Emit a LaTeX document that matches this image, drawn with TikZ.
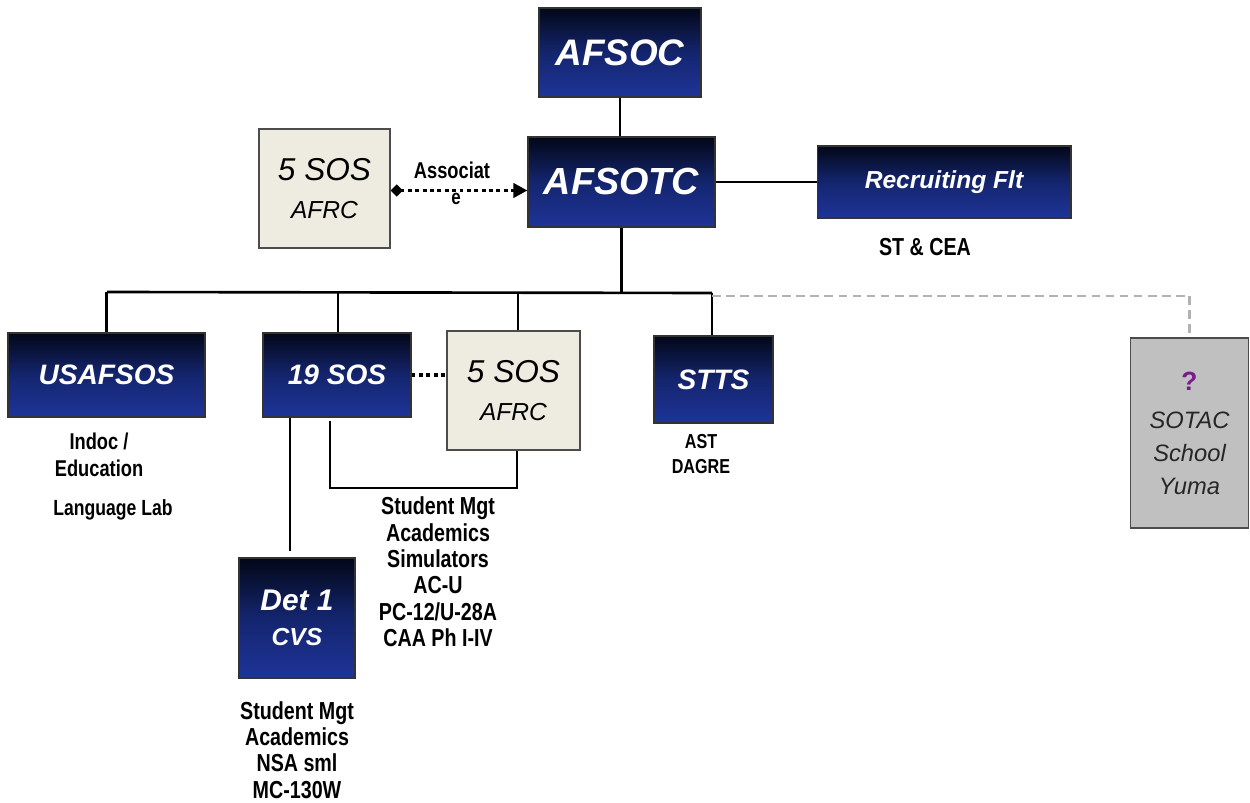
\documentclass[tikz,border=0pt]{standalone}
\usepackage{fontspec}
\setmainfont{Liberation Sans}
\newfontfamily\narrow[FakeStretch=0.8]{Liberation Sans}
\usetikzlibrary{arrows.meta,calc}
\definecolor{navytop}{HTML}{030718}
\definecolor{navymid}{HTML}{14256E}
\definecolor{navybot}{HTML}{1E3498}
\definecolor{beige}{HTML}{EEECE1}
\definecolor{greybox}{HTML}{C0C0C0}
\definecolor{qpurple}{HTML}{7A1A8C}
\newcommand{\fsz}[2]{\fontsize{#1}{#2}\selectfont}
\begin{document}
\begin{tikzpicture}[x=0.02cm,y=-0.02cm,
  bluebox/.style={draw=black!80,line width=0.6pt,top color=navytop,bottom color=navybot,middle color=navymid,
    text=white,align=center,inner sep=0pt},
  beigebox/.style={draw=black!70,line width=0.8pt,fill=beige,text=black,align=center,inner sep=0pt},
  greyboxst/.style={draw=black!70,line width=0.8pt,fill=greybox,text=black!85,align=center,inner sep=0pt},
  note/.style={font=\narrow\bfseries\fsz{14}{15},align=center,inner sep=0pt,text=black},
  conn/.style={line width=1.5pt,black},
  dotline/.style={line width=2pt,black,dash pattern=on 2.2pt off 2pt}]
\useasboundingbox (0,0) rectangle (1250,803);
\fill[white] (0,0) rectangle (1250,803);

% boxes
\node[bluebox,font=\bfseries\itshape\fsz{21}{24},minimum width=3.24cm,minimum height=1.78cm] (afsoc) at (620,52.5) {AFSOC};
\node[bluebox,font=\bfseries\itshape\fsz{21.5}{24},minimum width=3.74cm,minimum height=1.8cm] (afsotc) at (621.5,182) {AFSOTC};
\node[beigebox,font=\itshape\fsz{18}{21.5},minimum width=2.62cm,minimum height=2.38cm] (sosa) at (324.5,188.5) {5 SOS\\{\fsz{14}{16}AFRC}};
\node[bluebox,font=\bfseries\itshape\fsz{14}{16},minimum width=5.08cm,minimum height=1.44cm] (recruit) at (944,182) {Recruiting Flt};
\node[bluebox,font=\bfseries\itshape\fsz{16}{18},minimum width=3.94cm,minimum height=1.68cm] (usafsos) at (106.5,375) {USAFSOS};
\node[bluebox,font=\bfseries\itshape\fsz{16}{18},minimum width=2.96cm,minimum height=1.68cm] (sos19) at (337,375) {19 SOS};
\node[beigebox,font=\itshape\fsz{18}{21.5},minimum width=2.66cm,minimum height=2.38cm] (sosb) at (513.5,390.5) {5 SOS\\{\fsz{14}{16}AFRC}};
\node[bluebox,font=\bfseries\itshape\fsz{16}{18},minimum width=2.38cm,minimum height=1.74cm] (stts) at (713.5,379.5) {STTS};
\node[greyboxst,font=\itshape\fsz{13.5}{18.7},minimum width=2.36cm,minimum height=3.8cm] (sotac) at (1189.5,433)
  {{\upshape\bfseries\color{qpurple}\fsz{15}{18}?}\\[3pt]SOTAC\\School\\Yuma};
\node[bluebox,font=\bfseries\itshape\fsz{17}{20},minimum width=2.32cm,minimum height=2.4cm] (det1) at (297,618) {Det 1\\{\fsz{14}{16}CVS}};

% notes
\node[note,font=\narrow\bfseries\fsz{13}{15}] (assoc1) at (452,170) {Associat};
\node[note,font=\narrow\bfseries\fsz{12}{14}] (assoc2) at (456,199) {e};
\node[note] (stcea) at (925,247) {ST \& CEA};
\node[note,font=\narrow\bfseries\fsz{13}{15}] (indoc) at (99,455) {Indoc /\\[0.5pt]Education};
\node[note,font=\narrow\bfseries\fsz{12.5}{15}] (lang) at (113,510) {Language Lab};
\node[note] (sosnotes) at (438,572) {Student Mgt\\Academics\\Simulators\\AC-U\\PC-12/U-28A\\CAA Ph I-IV};
\node[note,font=\narrow\bfseries\fsz{11.5}{14}] (sttsnotes) at (701,454) {AST\\DAGRE};
\node[note] (detnotes) at (297,750) {Student Mgt\\Academics\\NSA sml\\MC-130W};

% connectors
\coordinate (busL) at (107,292);
\coordinate (busR) at (712,293);
\coordinate (aS) at ($(sosa.east)+(0,2)$);
\coordinate (n19) at ($(sos19.north)+(1,0)$);
\coordinate (n5) at ($(sosb.north)+(4.5,0)$);
\coordinate (nst) at ($(stts.north)+(-1.5,0)$);
\coordinate (dashS) at ($(busR)+(0,3)$);
\coordinate (b19) at ($(sos19.south)+(-7,3)$);
\coordinate (b5) at ($(sosb.south)+(3.5,0)$);
\coordinate (brk) at (330,488);
\coordinate (dtop) at ($(sos19.south)+(-47,0)$);
\coordinate (dbot) at ($(det1.north)+(-7,-6)$);
\draw[conn] (afsoc.south) -- (afsoc.south |- afsotc.north);
\draw[conn] (afsotc.east) -- (recruit.west);
\draw[dotline,{Diamond[length=7pt,width=7pt]}-{Triangle[length=8pt,width=8pt]}] (aS) -- (aS -| afsotc.west);
\draw[conn] (afsotc.south) -- (afsotc.south |- busL);
\draw[conn] (busL) -- (busR);
\draw[conn] (usafsos.north) -- (usafsos.north |- busL);
\draw[conn] (n19) -- (n19 |- busL);
\draw[conn] (n5) -- (n5 |- busL);
\draw[conn] (nst) -- (nst |- busR);
\draw[black!30,line width=1.2pt,dash pattern=on 5pt off 3pt] (dashS) -| (sotac.north);
\draw[dotline] (sos19.east) -- (sos19.east -| sosb.west);
\draw[conn] (b19) -- (brk) -| (b5);
\draw[conn] (dtop) -- (dbot);
\end{tikzpicture}
\end{document}
